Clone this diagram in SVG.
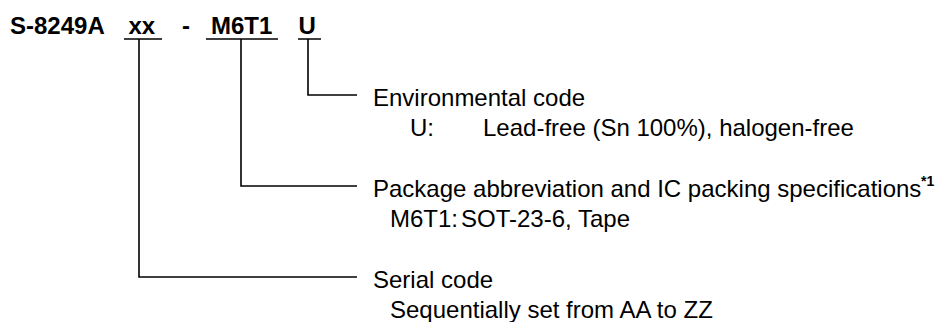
<svg xmlns="http://www.w3.org/2000/svg" width="939" height="322" viewBox="0 0 939 322">
<style>
  .t { font-family: "Liberation Sans", Arial, sans-serif; font-size: 24px; fill: #000; }
  .b { font-weight: bold; }
  .sup { font-family: "Liberation Sans", Arial, sans-serif; font-size: 14px; font-weight: bold; fill: #000; }
  .ln { stroke: #000; stroke-width: 1.6; fill: none; }
</style>
<rect width="939" height="322" fill="#fff"/>
<g id="title">
  <text class="t b" x="10" y="34">S-8249A</text>
  <text class="t b" x="128.5" y="34">xx</text>
  <text class="t b" x="182" y="34">-</text>
  <text class="t b" x="211" y="34">M6T1</text>
  <text class="t b" x="298.5" y="34">U</text>
</g>
<g id="connectors">
  <path class="ln" d="M124 39 H162 M206 39 H278 M298 39 H321"/>
  <path class="ln" d="M308 39 V95 H357"/>
  <path class="ln" d="M241 39 V186 H357"/>
  <path class="ln" d="M139 39 V277 H357"/>
</g>
<g id="env">
  <text class="t" x="373" y="106">Environmental code</text>
  <text class="t" x="410" y="136">U:</text>
  <text class="t" x="483" y="136">Lead-free (Sn 100%), halogen-free</text>
</g>
<g id="pkg">
  <text class="t" x="373" y="197">Package abbreviation and IC packing specifications</text>
  <text class="sup" x="921" y="186">*1</text>
  <text class="t" x="390" y="227">M6T1:<tspan dx="3">SOT-23-6, Tape</tspan></text>
</g>
<g id="serial">
  <text class="t" x="373" y="288">Serial code</text>
  <text class="t" x="390" y="318">Sequentially set from AA to ZZ</text>
</g>
</svg>
